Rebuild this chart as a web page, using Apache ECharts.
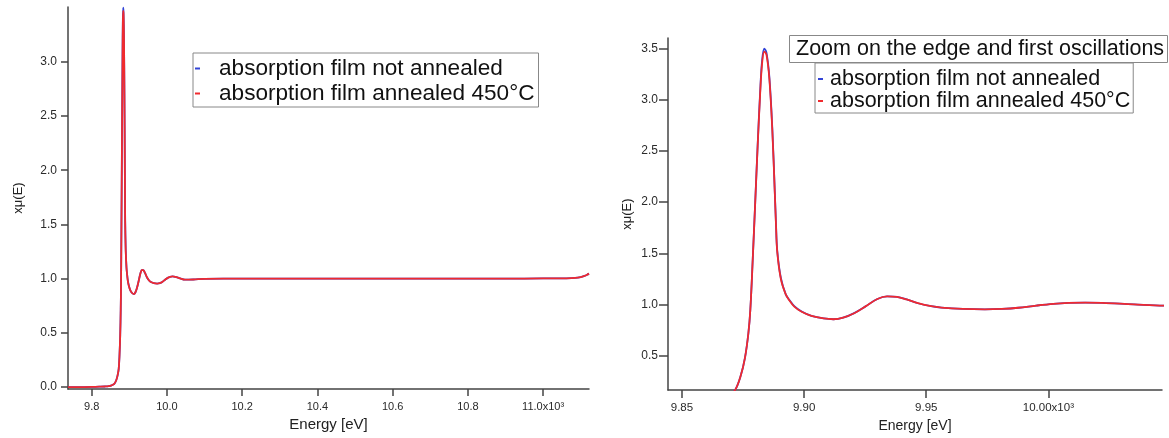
<!DOCTYPE html>
<html>
<head>
<meta charset="utf-8">
<title>xmu(E)</title>
<script src="https://cdn.jsdelivr.net/npm/echarts@6/dist/echarts.min.js"></script>
<style>
    html, body { margin: 0; padding: 0; background: #fff; }
    #chart { width: 1169px; height: 438px; }
</style>
</head>
<body>
<div id="chart"></div>
<script>
// energie en keV (axe affiché en eV x10^3)
var energy = [9.737, 9.76, 9.78, 9.80, 9.82, 9.835, 9.845, 9.853, 9.86, 9.865,
    9.869, 9.8718, 9.874, 9.8758, 9.8772, 9.878, 9.879, 9.880, 9.881, 9.882,
    9.8828, 9.8837, 9.8846, 9.8858, 9.887, 9.888, 9.8885, 9.889, 9.8905, 9.8925,
    9.894, 9.896, 9.899, 9.903, 9.908, 9.912, 9.916, 9.9205, 9.925, 9.930,
    9.934, 9.938, 9.942, 9.9466, 9.952, 9.9562, 9.965, 9.974, 9.981, 9.9877,
    9.995, 10.002, 10.0083, 10.015, 10.022, 10.035, 10.048, 10.07, 10.10, 10.15,
    10.2, 10.3, 10.4, 10.5, 10.6, 10.7, 10.8, 10.9, 11.0, 11.06,
    11.085, 11.1, 11.11, 11.117, 11.122];

var notAnnealed = [0.0, 0.0, 0.0, 0.001, 0.003, 0.005, 0.008, 0.016, 0.03, 0.06,
    0.11, 0.167, 0.3, 0.48, 0.72, 0.95, 1.45, 2.0, 2.56, 3.07,
    3.38, 3.50, 3.46, 3.22, 2.72, 2.11, 1.79, 1.53, 1.26, 1.1,
    1.045, 0.985, 0.932, 0.89, 0.865, 0.857, 0.872, 0.917, 0.98, 1.055,
    1.08, 1.075, 1.05, 1.013, 0.985, 0.971, 0.958, 0.954, 0.958, 0.969,
    0.99, 1.007, 1.016, 1.02, 1.017, 1.002, 0.99, 0.992, 0.998, 1.0,
    1.0, 1.0, 1.0, 1.0, 1.0, 1.0, 1.0, 1.0, 1.002, 1.003,
    1.006, 1.014, 1.025, 1.036, 1.046];

var annealed = [0.0, 0.0, 0.0, 0.001, 0.003, 0.005, 0.008, 0.016, 0.03, 0.06,
    0.11, 0.167, 0.3, 0.48, 0.72, 0.95, 1.45, 2.0, 2.55, 3.05,
    3.35, 3.47, 3.44, 3.2, 2.7, 2.1, 1.78, 1.52, 1.25, 1.1,
    1.04, 0.98, 0.93, 0.89, 0.865, 0.857, 0.872, 0.915, 0.98, 1.055,
    1.08, 1.075, 1.05, 1.015, 0.985, 0.971, 0.958, 0.954, 0.958, 0.969,
    0.99, 1.007, 1.016, 1.02, 1.017, 1.002, 0.99, 0.992, 0.998, 1.0,
    1.0, 1.0, 1.0, 1.0, 1.0, 1.0, 1.0, 1.0, 1.002, 1.003,
    1.006, 1.014, 1.025, 1.036, 1.046];

var fullTicksX = [9.8, 10.0, 10.2, 10.4, 10.6, 10.8, 11.0];
var fullTicksY = [0, 0.5, 1.0, 1.5, 2.0, 2.5, 3.0];
var zoomTicksX = [9.85, 9.90, 9.95, 10.00];
var zoomTicksY = [0.5, 1.0, 1.5, 2.0, 2.5, 3.0, 3.5];

var nameBlue = 'absorption film not annealed';
var nameRed = 'absorption film annealed 450°C';

var FONT = 'Liberation Sans, Arial, Helvetica, sans-serif';
var AXIS_COLOR = '#444';
var LABEL_COLOR = '#2a2a2a';

function toPairs(xs, ys) {
    var out = [];
    for (var i = 0; i < xs.length; i++) {
        out.push([xs[i], ys[i]]);
    }
    return out;
}

function makeXAxis(grid, min, max, ticks, digits, tickLen, fontSize, nameSize, nameGap) {
    var last = ticks[ticks.length - 1];
    return {
        type: 'value',
        gridIndex: grid,
        min: min,
        max: max,
        name: 'Energy [eV]',
        nameLocation: 'middle',
        nameGap: nameGap,
        nameTextStyle: {fontFamily: FONT, fontSize: nameSize, color: '#222'},
        splitLine: {show: false},
        axisLine: {show: true, onZero: false, lineStyle: {color: AXIS_COLOR, width: 1.5}},
        axisTick: {show: true, customValues: ticks, length: tickLen,
            lineStyle: {color: AXIS_COLOR, width: 1.5}},
        axisLabel: {
            customValues: ticks,
            margin: 12,
            fontFamily: FONT,
            fontSize: fontSize,
            color: LABEL_COLOR,
            formatter: function(v) {
                var s = v.toFixed(digits);
                return Math.abs(v - last) < 1e-9 ? s + 'x10³' : s;
            }
        }
    };
}

function makeYAxis(grid, min, max, ticks, tickLen, margin, nameGap) {
    return {
        type: 'value',
        gridIndex: grid,
        min: min,
        max: max,
        name: 'xμ(E)',
        nameLocation: 'middle',
        nameRotate: 90,
        nameGap: nameGap,
        nameTextStyle: {fontFamily: FONT, fontSize: 13, color: '#222'},
        splitLine: {show: false},
        axisLine: {show: true, onZero: false, lineStyle: {color: AXIS_COLOR, width: 1.5}},
        axisTick: {show: true, customValues: ticks, length: tickLen,
            lineStyle: {color: AXIS_COLOR, width: 1.5}},
        axisLabel: {
            customValues: ticks,
            margin: margin,
            fontFamily: FONT,
            fontSize: 12,
            color: LABEL_COLOR,
            formatter: function(v) {
                return v.toFixed(1);
            }
        }
    };
}

function makeLine(name, color, idx, values) {
    return {
        name: name,
        type: 'line',
        xAxisIndex: idx,
        yAxisIndex: idx,
        data: toPairs(energy, values),
        showSymbol: false,
        smooth: 0.35,
        clip: true,
        color: color,
        lineStyle: {color: color, width: 1.8},
        animation: false
    };
}

function legendBox(left, top, fontSize, lineHeight, padding, textPad) {
    return {
        data: [nameBlue, nameRed],
        orient: 'vertical',
        left: left,
        top: top,
        icon: 'rect',
        itemWidth: 5,
        itemHeight: 2,
        itemGap: 0,
        padding: padding,
        borderColor: '#888',
        borderWidth: 1,
        selectedMode: false,
        textStyle: {
            fontFamily: FONT,
            fontSize: fontSize,
            lineHeight: lineHeight,
            color: '#111',
            padding: [0, 0, 0, textPad]
        }
    };
}

var myChart = echarts.init(document.getElementById('chart'), null, {renderer: 'canvas'});

var option = {
    backgroundColor: '#fff',
    animation: false,
    title: {
        text: 'Zoom on the edge and first oscillations',
        left: 789,
        top: 35,
        padding: [2, 4, 2, 7],
        borderColor: '#888',
        borderWidth: 1,
        textStyle: {fontFamily: FONT, fontSize: 21.5, fontWeight: 'normal',
            color: '#111', lineHeight: 24}
    },
    legend: [
        legendBox(193, 53, 22.6, 25, [3, 4, 1, 2], 14),
        legendBox(815, 63, 21.5, 20.5, [5, 3, 1, 3], 2)
    ],
    grid: [
        {left: 68, top: 7, width: 521, height: 382},
        {left: 668, top: 38, width: 494, height: 357}
    ],
    xAxis: [
        makeXAxis(0, 9.737, 11.122, fullTicksX, 1, 7, 11, 15, 23),
        makeXAxis(1, 9.8443, 10.0465, zoomTicksX, 2, 8, 11.5, 14, 25)
    ],
    yAxis: [
        makeYAxis(0, -0.018, 3.505, fullTicksY, 7, 11, 43),
        makeYAxis(1, 0.165, 3.603, zoomTicksY, 9, 10, 34)
    ],
    series: [
        makeLine(nameBlue, '#3344d6', 0, notAnnealed),
        makeLine(nameRed, '#f02a2e', 0, annealed),
        makeLine(nameBlue, '#3344d6', 1, notAnnealed),
        makeLine(nameRed, '#f02a2e', 1, annealed)
    ]
};

myChart.setOption(option);
</script>
</body>
</html>
